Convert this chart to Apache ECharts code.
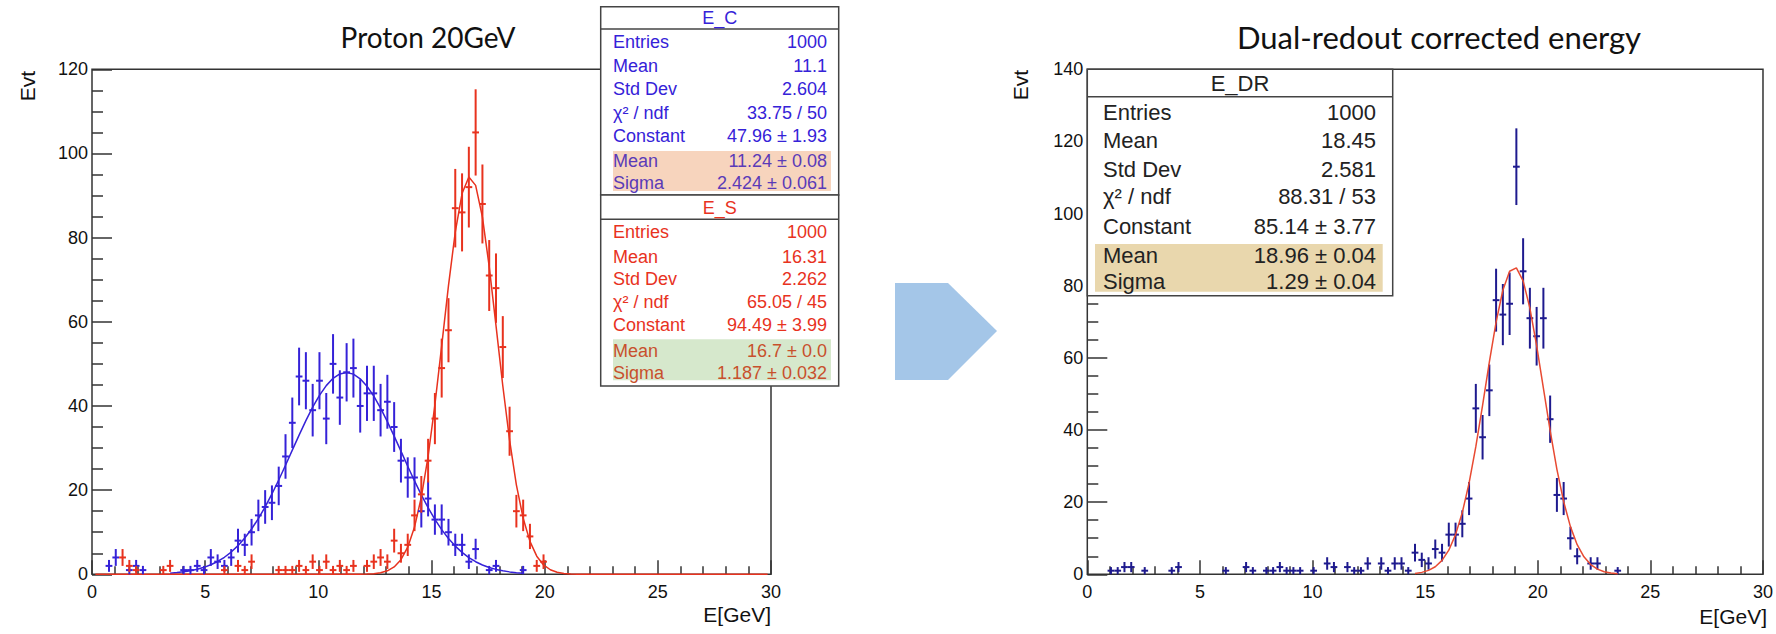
<!DOCTYPE html>
<html>
<head>
<meta charset="utf-8">
<script src="https://cdn.jsdelivr.net/npm/echarts@6/dist/echarts.min.js"></script>
<style>
html,body{margin:0;padding:0;background:#fff;}
#c{width:1776px;height:634px;}
</style>
</head>
<body>
<div id="c"></div>
<script>
// ---------------- data (bin centres of 0.3 GeV bins, counts) ----------------
const binWidth = 0.3;

// E_C (blue), left panel
const ecX = [0.75,1.05,1.65,1.95,2.25,4.05,4.35,4.65,4.95,5.25,5.55,5.85,6.15,6.45,6.75,7.05,7.35,7.65,7.95,8.25,8.55,8.85,9.15,9.45,9.75,10.05,10.35,10.65,10.95,11.25,11.55,11.85,12.15,12.45,12.75,13.05,13.35,13.65,13.95,14.25,14.55,14.85,15.15,15.45,15.75,16.05,16.35,16.65,16.95,17.55,17.85,19.05];
const ecN = [2,4,1,2,1,1,1,2,1,4,3,2,4,8,7,10,14,16,17,21,28,36,47,46,39,46,37,50,42,48,49,40,43,43,39,41,35,27,23,23,15,18,13,13,10,7,7,3,6,1,2,1];

// E_S (red), left panel
const esX = [1.35,1.65,1.95,3.15,3.45,5.85,6.45,6.75,7.05,8.25,8.55,8.85,9.15,9.45,9.75,10.05,10.35,10.65,10.95,11.25,11.55,12.15,12.45,12.75,13.05,13.35,13.65,13.95,14.25,14.55,14.85,15.15,15.45,15.75,16.05,16.35,16.65,16.95,17.25,17.55,17.85,18.15,18.45,18.75,19.05,19.35,19.65,19.95];
const esN = [4,2,1,1,2,1,2,1,3,1,1,1,2,1,3,1,3,1,2,1,2,2,3,4,3,8,5,7,14,19,27,37,49,58,87,86,92,105,88,71,68,54,34,15,14,9,2,3];

// E_DR (navy), right panel
const edrX = [1.05,1.35,1.65,1.95,2.55,3.75,4.05,6.15,7.05,7.35,7.95,8.25,8.55,8.85,9.15,9.45,10.05,10.65,10.95,11.55,11.85,12.15,12.45,13.05,13.35,13.65,13.95,14.25,14.55,14.85,15.15,15.45,15.75,16.05,16.35,16.65,16.95,17.25,17.55,17.85,18.15,18.45,18.75,19.05,19.35,19.65,19.95,20.25,20.55,20.85,21.15,21.45,21.75,22.35,22.65,23.55];
const edrN = [1,1,2,2,1,1,2,1,2,1,1,1,2,1,1,1,1,3,2,2,1,1,3,3,1,3,3,1,6,4,3,7,6,11,11,14,21,46,38,51,76,72,75,113,84,71,66,71,43,22,21,10,5,3,3,1];

// Gaussian fit parameters shown in the stat boxes: [constant, mean, sigma], fit range
const fitC  = [47.96, 11.24, 2.424]; const fitCRange  = [3.3, 19.2];
const fitS  = [94.49, 16.7, 1.187];  const fitSRange  = [0, 30];
const fitDR = [85.14, 18.96, 1.29];  const fitDRRange = [14.4, 23.6];

// axis ticks
const xTicks = [0,5,10,15,20,25,30];
const yTicksLeft = [0,20,40,60,80,100,120];
const yTicksRight = [0,20,40,60,80,100,120,140];

// stat box texts
const statC  = [['Entries','1000'],['Mean','11.1'],['Std Dev','2.604'],['χ² / ndf','33.75 / 50'],['Constant','47.96 ± 1.93'],['Mean','11.24 ± 0.08'],['Sigma','2.424 ± 0.061']];
const statS  = [['Entries','1000'],['Mean','16.31'],['Std Dev','2.262'],['χ² / ndf','65.05 / 45'],['Constant','94.49 ± 3.99'],['Mean','16.7 ± 0.0'],['Sigma','1.187 ± 0.032']];
const statDR = [['Entries','1000'],['Mean','18.45'],['Std Dev','2.581'],['χ² / ndf','88.31 / 53'],['Constant','85.14 ± 3.77'],['Mean','18.96 ± 0.04'],['Sigma','1.29 ± 0.04']];

const titleLeft = 'Proton 20GeV';
const titleRight = 'Dual-redout corrected energy';

// ---------------- helpers ----------------
function histData(xs, ns){ return xs.map((x,i)=>[x, ns[i], Math.sqrt(ns[i])]); }
function fitCurve(p, range){
  const pts = [];
  for (let k = 0; k < 100; k++) {
    const c = (k + 0.5) * binWidth;
    if (c < range[0] || c > range[1]) continue;
    pts.push([c, p[0]*Math.exp(-0.5*Math.pow((c-p[1])/p[2],2))]);
  }
  return pts;
}
function errRender(color){
  return function(params, api){
    const x = api.value(0), y = api.value(1), e = api.value(2);
    const c = api.coord([x, y]);
    const lo = api.coord([x, y - e]);
    const hi = api.coord([x, y + e]);
    const l = api.coord([x - binWidth/2, y]);
    const r = api.coord([x + binWidth/2, y]);
    return {type:'group', children:[
      {type:'line', shape:{x1:c[0], y1:lo[1], x2:c[0], y2:hi[1]}, style:{stroke:color, lineWidth:2}},
      {type:'line', shape:{x1:l[0], y1:c[1], x2:r[0], y2:c[1]}, style:{stroke:color, lineWidth:2}}
    ]};
  };
}

const FONT = '"Liberation Sans", Arial, Helvetica, sans-serif';
const frame = '#333';
const blue = '#3522d8', red = '#e8321e', navy = '#1e1a8e', fitRed = '#e84a32';

function xAxisCfg(gi){
  return {
    gridIndex: gi, type:'value', min:0, max:30, interval:5,
    axisLine:{show:false},
    axisTick:{show:true, inside:true, length:14, lineStyle:{color:frame, width:1.5}},
    minorTick:{show:true, splitNumber:5, length:8, lineStyle:{color:frame, width:1.5}},
    splitLine:{show:false},
    axisLabel:{margin:9, fontSize:18, color:'#111', fontFamily:FONT,
      formatter:(v)=> xTicks.includes(v) ? String(v) : ''}
  };
}
function yAxisCfg(gi, max, ticks){
  return {
    gridIndex: gi, type:'value', min:0, max:max, interval:20,
    axisLine:{show:false},
    axisTick:{show:true, inside:true, length:20, lineStyle:{color:frame, width:1.5}},
    minorTick:{show:true, splitNumber:4, length:11, lineStyle:{color:frame, width:1.5}},
    splitLine:{show:false},
    axisLabel:{margin:4, fontSize:18, color:'#111', fontFamily:FONT,
      formatter:(v)=> ticks.includes(v) ? String(v) : ''}
  };
}

// ---------------- stat boxes (graphic) ----------------
const G = [];
function txt(x, y, text, size, color, align, extra){
  G.push(Object.assign({type:'text', z:110, style:{x:x, y:y, text:text, fill:color,
    font: size + 'px ' + FONT, align:align, verticalAlign:'middle'}}, extra||{}));
}
function rect(x, y, w, h, fill, stroke, z){
  G.push({type:'rect', z:z, shape:{x:x, y:y, width:w, height:h},
    style:{fill:fill, stroke:stroke, lineWidth:stroke ? 1.5 : 0}});
}
function hline(x1, x2, y){
  G.push({type:'line', z:105, shape:{x1:x1, y1:y, x2:x2, y2:y}, style:{stroke:'#444', lineWidth:1.5}});
}

// left: E_C box
const bx = 600.7, bw = 238;
rect(bx, 6.7, bw, 188.3, '#fff', '#444', 100);
hline(bx, bx+bw, 29);
txt(bx+bw/2, 18, 'E_C', 18, blue, 'center');
rect(613, 151, 218, 40, '#f7d4bd', null, 102);
const rowsC = [41.7, 65.5, 89, 112.8, 136, 160.5, 182.8];
statC.forEach((r,i)=>{
  const col = i >= 5 ? '#5a3bb8' : blue;
  txt(613, rowsC[i], r[0], 18, col, 'left');
  txt(827, rowsC[i], r[1], 18, col, 'right');
});
// left: E_S box
rect(bx, 195, bw, 191, '#fff', '#444', 100);
hline(bx, bx+bw, 219.3);
txt(bx+bw/2, 208.3, 'E_S', 18, red, 'center');
rect(613, 339.3, 218, 41, '#d6e8cc', null, 102);
const rowsS = [232.3, 256.7, 278.5, 301.7, 325, 350.7, 372.7];
statS.forEach((r,i)=>{
  const col = i >= 5 ? '#c8502c' : red;
  txt(613, rowsS[i], r[0], 18, col, 'left');
  txt(827, rowsS[i], r[1], 18, col, 'right');
});

// right: E_DR box
const rx = 1087.3, rw = 305.4;
rect(rx, 69.3, rw, 226.4, '#fff', '#444', 100);
hline(rx, rx+rw, 96.7);
txt(rx+rw/2, 83, 'E_DR', 22, '#222', 'center');
rect(1095, 244, 287.7, 47.7, '#e9d7ad', null, 102);
const rowsDR = [112.3, 140, 169, 196.7, 226.7, 255, 281.7];
statDR.forEach((r,i)=>{
  txt(1103, rowsDR[i], r[0], 22, '#222', 'left');
  txt(1376, rowsDR[i], r[1], 22, '#222', 'right');
});

// titles
txt(428, 37, titleLeft, 28, '#111', 'center', {z:120});
G[G.length-1].style.font = '28px Lato, "Open Sans", sans-serif';
txt(1237, 37, titleRight, 31, '#111', 'left', {z:120});
G[G.length-1].style.font = '31px Lato, "Open Sans", sans-serif';

// axis titles
txt(27, 86, 'Evt', 21, '#111', 'center', {rotation: Math.PI/2, x:27, y:86});
G[G.length-1].style.x = 0; G[G.length-1].style.y = 0;
txt(1020, 85, 'Evt', 21, '#111', 'center', {rotation: Math.PI/2, x:1020, y:85});
G[G.length-1].style.x = 0; G[G.length-1].style.y = 0;
txt(771, 614, 'E[GeV]', 21, '#111', 'right');
txt(1767, 616, 'E[GeV]', 21, '#111', 'right');

// arrow
G.push({type:'polygon', z:90, shape:{points:[[895,283],[948,283],[997,331],[948,380],[895,380]]},
  style:{fill:'#a4c6e8', stroke:null}});

// ---------------- chart ----------------
const chart = echarts.init(document.getElementById('c'), null, {renderer:'svg'});
chart.setOption({
  animation:false,
  backgroundColor:'#fff',
  grid:[
    {left:92, right:1776-771, top:69.3, height:505, show:true, borderColor:frame, borderWidth:1.5, backgroundColor:'transparent'},
    {left:1087.3, right:1776-1767, top:69.3, height:505, show:true, borderColor:frame, borderWidth:1.5, backgroundColor:'transparent'}
  ],
  xAxis:[xAxisCfg(0), xAxisCfg(1)],
  yAxis:[yAxisCfg(0, 120, yTicksLeft), yAxisCfg(1, 140, yTicksRight)],
  series:[
    {type:'line', name:'fit E_C', xAxisIndex:0, yAxisIndex:0, data:fitCurve(fitC, fitCRange),
      showSymbol:false, lineStyle:{color:blue, width:1.5}, z:2},
    {type:'line', name:'fit E_S', xAxisIndex:0, yAxisIndex:0, data:fitCurve(fitS, fitSRange),
      showSymbol:false, lineStyle:{color:red, width:1.5}, z:3},
    {type:'custom', name:'E_C', xAxisIndex:0, yAxisIndex:0, data:histData(ecX, ecN),
      renderItem:errRender(blue), encode:{x:0, y:1}, z:4},
    {type:'custom', name:'E_S', xAxisIndex:0, yAxisIndex:0, data:histData(esX, esN),
      renderItem:errRender(red), encode:{x:0, y:1}, z:5},
    {type:'custom', name:'E_DR', xAxisIndex:1, yAxisIndex:1, data:histData(edrX, edrN),
      renderItem:errRender(navy), encode:{x:0, y:1}, z:4},
    {type:'line', name:'fit E_DR', xAxisIndex:1, yAxisIndex:1, data:fitCurve(fitDR, fitDRRange),
      showSymbol:false, lineStyle:{color:fitRed, width:1.5}, z:5}
  ],
  graphic:{elements:G}
});
</script>
</body>
</html>
